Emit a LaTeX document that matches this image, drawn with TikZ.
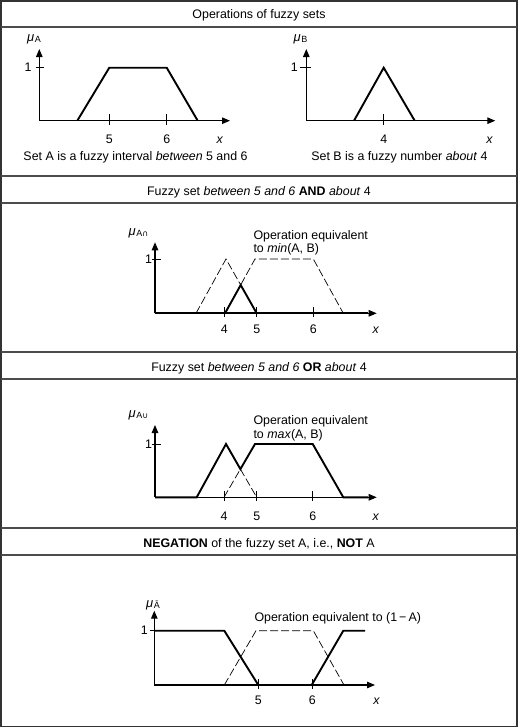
\documentclass[tikz,border=0pt]{standalone}
\usepackage{fontspec}
\setmainfont{Liberation Sans}
\newfontfamily\dvsfont{DejaVu Sans}
\usetikzlibrary{arrows.meta}
\newcommand\mulbl[1]{{\fontsize{13}{13}\selectfont\itshape μ}\kern0.6pt\raisebox{-1.2pt}{\fontsize{9}{9}\selectfont #1}}
\begin{document}
\begin{tikzpicture}[x=1pt,y=-1pt,
  lbl/.style={font=\fontsize{12.4}{14.5}\selectfont, inner sep=0pt},
  ax/.style={line width=1.1pt, -{Triangle[length=8pt,width=6.5pt]}},
  tk/.style={line width=1pt},
  bold/.style={line width=1.9pt, line join=miter},
  dsh/.style={line width=0.7pt, dash pattern=on 8pt off 3pt},
  sep/.style={line width=1.3pt, draw=black!70},
]
\useasboundingbox (0,0) rectangle (518,728);
% frame and separators
\draw[line width=1.4pt, draw=black!80] (1,1) rectangle (517,726.5);
\foreach \yy in {27,176,203,352,379,528,555} \draw[sep] (1,\yy) -- (517,\yy);

% titles
\node[lbl, anchor=base] (t1) at (259,19) {Operations of fuzzy sets};
\node[lbl, anchor=base] (t2) at (259,195) {Fuzzy set \textit{between 5 and 6} \textbf{AND} \textit{about} 4};
\node[lbl, anchor=base] (t3) at (259,371) {Fuzzy set \textit{between 5 and 6} \textbf{OR} \textit{about} 4};
\node[lbl, anchor=base] (t4) at (259,547) {\textbf{NEGATION} of the fuzzy set A, i.e., \textbf{NOT} A};

% ===== Panel 1 left: set A =====
\coordinate (a0) at (39.3,120.7);
\draw[ax] (a0) -- (39.3,49);
\draw[ax] (a0) -- (230,120.7);
\draw[tk] (36,67.7) -- (44,67.7);
\node[lbl, anchor=base] (a1) at (28,71.7) {1};
\node[lbl, anchor=base west] (amu) at (27,41) {\mulbl{A}};
\draw[bold] (77.3,120.7) -- (109.3,67.7) -- (166.7,67.7) -- (197.7,120.7);
\draw[tk] (109.3,114) -- (109.3,125);
\draw[tk] (166.7,114) -- (166.7,125);
\node[lbl, anchor=base] (a5) at (109.3,143) {5};
\node[lbl, anchor=base] (a6) at (166.7,143) {6};
\node[lbl, anchor=base] (ax) at (220,143) {\textit{x}};
\node[lbl, anchor=base] (acap) at (135.5,160) {Set A is a fuzzy interval \textit{between} 5 and 6};

% ===== Panel 1 right: set B =====
\coordinate (b0) at (306.3,120.7);
\draw[ax] (b0) -- (306.3,49);
\draw[ax] (b0) -- (495.3,120.7);
\draw[tk] (299.7,67.7) -- (311.3,67.7);
\node[lbl, anchor=base] (b1) at (294.3,71.7) {1};
\node[lbl, anchor=base west] (bmu) at (293.5,41) {\mulbl{B}};
\draw[bold] (354,120.7) -- (383.7,67.7) -- (414.7,120.7);
\draw[tk] (383.7,114) -- (383.7,125);
\node[lbl, anchor=base] (b4) at (383.7,143) {4};
\node[lbl, anchor=base] (bx) at (489.7,143) {\textit{x}};
\node[lbl, anchor=base] (bcap) at (399.5,160) {Set B is a fuzzy number \textit{about} 4};

% ===== Panel 2: AND =====
\coordinate (c0) at (155,313.3);
\draw[ax] (c0) -- (155,242.3);
\draw[ax] (c0) -- (376.7,313.3);
\draw[bold] (c0) -- (368,313.3);
\draw[tk] (151.7,259) -- (160.7,259);
\node[lbl, anchor=base] (c1) at (148.5,263) {1};
\node[lbl, anchor=base west] (cmu) at (128.5,235) {\mulbl{A{\dvsfont\fontsize{8}{8}\selectfont ∩}}};
\draw[dsh] (196,313.3) -- (226,259) -- (256.7,313.3);
\draw[dsh] (225,313.3) -- (255,259) -- (313.3,259) -- (343.3,313.3);
\draw[bold] (225,313.3) -- (240.7,285) -- (256.7,313.3);
\draw[tk] (224.3,307.3) -- (224.3,317.3);
\draw[tk] (256.7,307.3) -- (256.7,317.3);
\draw[tk] (313.3,307.3) -- (313.3,317.3);
\node[lbl, anchor=base] (c4) at (224.3,333) {4};
\node[lbl, anchor=base] (c5) at (256.7,333) {5};
\node[lbl, anchor=base] (c6) at (313.3,333) {6};
\node[lbl, anchor=base] (cx) at (376,333) {\textit{x}};
\node[lbl, anchor=base west] (cop1) at (253.3,239.3) {Operation equivalent};
\node[lbl, anchor=base west] (cop2) at (253.3,252.7) {to \textit{min}(A, B)};

% ===== Panel 3: OR =====
\coordinate (d0) at (155,497.3);
\draw[ax] (d0) -- (155,425);
\draw[ax] (d0) -- (376.7,497.3);
\draw[tk] (151.7,444) -- (160.7,444);
\node[lbl, anchor=base] (d1) at (148.5,448) {1};
\node[lbl, anchor=base west] (dmu) at (128.5,417) {\mulbl{A{\dvsfont\fontsize{8}{8}\selectfont ∪}}};
\draw[dsh] (240.4,469.1) -- (256.7,497.3);
\draw[dsh] (224,497.3) -- (240.4,469.1);
\draw[bold] (d0) -- (196.7,497.3) -- (226,444) -- (240.4,469.1) -- (255,444) -- (312.7,444) -- (343.3,497.3) -- (368,497.3);
\draw[tk] (224,491.3) -- (224,501.3);
\draw[tk] (256.7,491.3) -- (256.7,501.3);
\draw[tk] (312.7,491.3) -- (312.7,501.3);
\node[lbl, anchor=base] (d4) at (224,520) {4};
\node[lbl, anchor=base] (d5) at (256.7,520) {5};
\node[lbl, anchor=base] (d6) at (312.7,520) {6};
\node[lbl, anchor=base] (dx) at (376,520) {\textit{x}};
\node[lbl, anchor=base west] (dop1) at (253.3,424.3) {Operation equivalent};
\node[lbl, anchor=base west] (dop2) at (253.3,438.3) {to \textit{max}(A, B)};

% ===== Panel 4: NOT =====
\coordinate (e0) at (154.3,685);
\draw[ax] (e0) -- (154.3,610.7);
\draw[ax] (e0) -- (375,685);
\draw[tk] (150,630.7) -- (154.3,630.7);
\node[lbl, anchor=base] (e1) at (144.3,634.7) {1};
\node[lbl, anchor=base west] (emu) at (146,607) {\mulbl{Ā}};
\draw[dsh] (224.3,685) -- (256,630.7) -- (313.3,630.7) -- (344,685);
\draw[bold] (154.3,630.7) -- (224.3,630.7) -- (258.3,685) -- (311.7,685) -- (343.3,630.7) -- (365,630.7);
\draw[tk] (258.3,679) -- (258.3,689);
\draw[tk] (312.3,679) -- (312.3,689);
\node[lbl, anchor=base] (e5) at (258.3,704) {5};
\node[lbl, anchor=base] (e6) at (312.3,704) {6};
\node[lbl, anchor=base] (ex) at (376.7,704) {\textit{x}};
\node[lbl, anchor=base west] (eop) at (254.3,621) {Operation equivalent to (1\,−\,A)};
\end{tikzpicture}
\end{document}
